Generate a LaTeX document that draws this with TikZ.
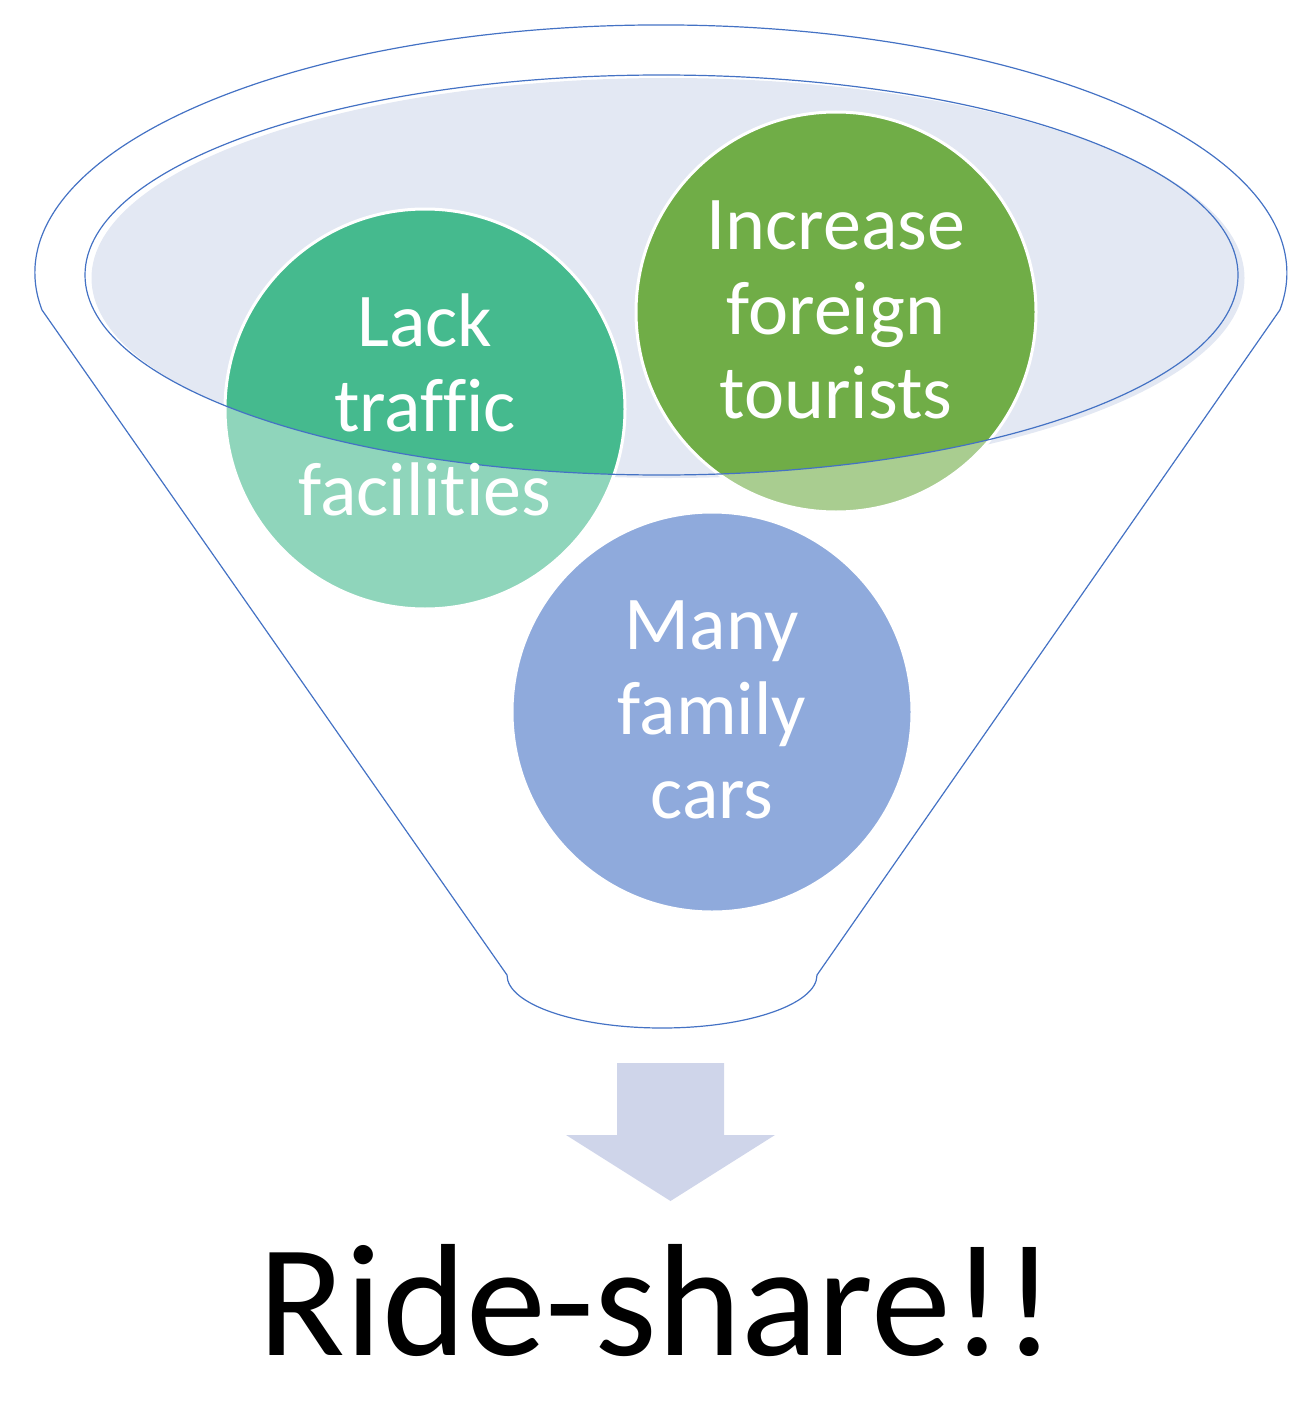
\documentclass[tikz,border=0pt]{standalone}
\usepackage{fontspec}
\setmainfont{Carlito}[Ligatures=NoCommon]
\definecolor{funnelblue}{HTML}{4472C4}
\definecolor{rimfill}{HTML}{E3E8F3}
\definecolor{arrowfill}{HTML}{CFD5EA}
\definecolor{tealc}{HTML}{45BA8E}
\definecolor{olivec}{HTML}{70AD47}
\definecolor{bluec}{HTML}{8FAADC}
\begin{document}
\begin{tikzpicture}[x=1pt,y=-1pt,
  outline/.style={draw=funnelblue, line width=1.2pt},
  bubble/.style={circle, minimum size=400pt, inner sep=0pt, draw=white, line width=3pt},
  bubbletext/.style={text=white, align=center, font=\fontsize{76}{84.5}\selectfont, inner sep=0pt}]
\useasboundingbox (0,0) rectangle (1291,1407);
% rim fill (slightly offset like the original)
\fill[rimfill] (668,278) ellipse[x radius=576.5, y radius=200];
% upper circles
\node[bubble, fill=tealc] (lack) at (425,409) {};
\node[bubble, fill=olivec] (tour) at (836,312) {};
% lighten parts of circles below the rim
\foreach \c in {lack,tour}{
  \begin{scope}
    \clip (\c.center) circle[radius=201.5];
    \fill[white, fill opacity=0.4, even odd rule] (0,0) rectangle (1291,1407) (661.5,275) ellipse[x radius=576.5, y radius=200];
  \end{scope}
}
% rim outline
\draw[outline] (661.5,275) ellipse[x radius=576.5, y radius=200];
% funnel body outline
\draw[outline, line join=round] (42,310) arc[start angle=171.4, end angle=368.6, x radius=626, y radius=248]
  -- (817,975) arc[start angle=0, end angle=180, x radius=155, y radius=53] -- cycle;
% bottom circle
\node[bubble, fill=bluec] (cars) at (712,712) {};
% texts
\node[bubbletext] (lacktext) at (425,405) {Lack\\traffic\\facilities};
\node[bubbletext] (tourtext) at (836,310) {Increase\\foreign\\tourists};
\node[bubbletext] (carstext) at (712,710) {Many\\family\\cars};
% down arrow
\fill[arrowfill] (617,1063) -- (724,1063) -- (724,1135) -- (775,1135) -- (670.5,1201) -- (566,1135) -- (617,1135) -- cycle;
% result
\node[font=\fontsize{160}{192}\selectfont, anchor=base, inner sep=0pt] (ride) at (657,1355) {Ride-share!!};
\end{tikzpicture}
\end{document}
